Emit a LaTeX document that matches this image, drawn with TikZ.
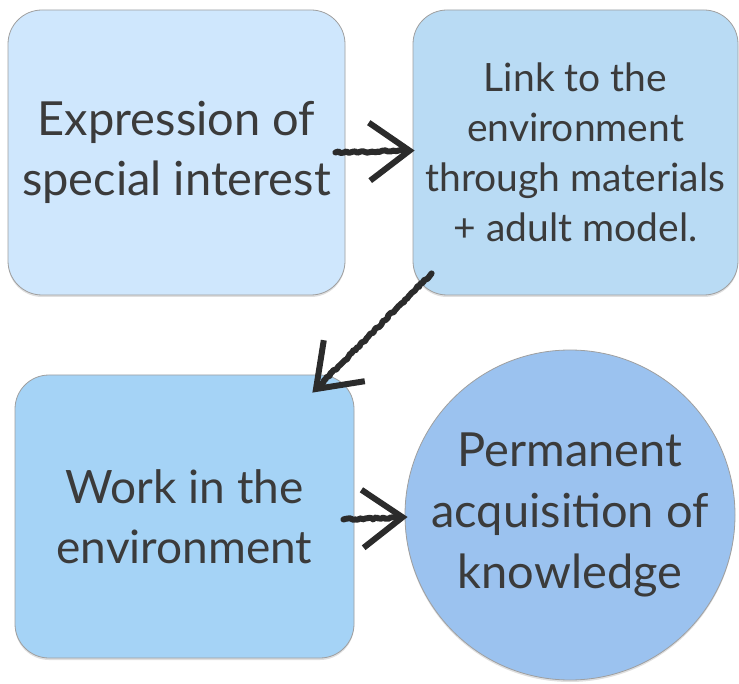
\documentclass[tikz,border=0pt]{standalone}
\usepackage{fontspec}
\setmainfont{Lato}
\usepackage{tikz}
\usetikzlibrary{arrows.meta,positioning,calc,shadows,decorations.pathmorphing}
\definecolor{boxa}{HTML}{CFE7FD}
\definecolor{boxb}{HTML}{B9DBF4}
\definecolor{boxc}{HTML}{A5D3F6}
\definecolor{circd}{HTML}{9BC2EF}
\definecolor{inktext}{HTML}{3B3B3B}
\definecolor{ink}{HTML}{2B2B2B}
\tikzset{
    card/.style={rectangle,rounded corners=34pt,draw=gray!75,line width=0.8pt,
        drop shadow={opacity=0.25,shadow xshift=0pt,shadow yshift=-2pt},
        align=center,text=inktext,inner sep=0pt},
    sketch/.style={draw=ink,line width=6pt,line cap=round,line join=round,
        decorate,decoration={random steps,segment length=2.5pt,amplitude=1pt},
        -{Straight Barb[length=40pt,width=58pt,line width=6pt,sep=0pt]}}
}

\begin{document}
\begin{tikzpicture}[x=1pt,y=-1pt]
        \useasboundingbox (0,0) rectangle (739,684);

        % Boxes
        \node[card,fill=boxa,minimum width=337pt,minimum height=285pt,
            font=\fontsize{47}{60}\selectfont] (interest) at (176.5,152.5)
            {Expression of\\special interest};
        \node[card,fill=boxb,minimum width=325pt,minimum height=285pt,
            font=\fontsize{39}{50}\selectfont] (link) at (575.5,152.5)
            {Link to the\\environment\\through materials\\+ adult model.};
        \node[card,fill=boxc,minimum width=339pt,minimum height=283pt,
            font=\fontsize{46}{60}\selectfont] (work) at (184.5,516.5)
            {Work in the\\environment};
        \node[card,circle,fill=circd,minimum size=330pt,
            font=\fontsize{47}{61}\selectfont] (knowledge) at (570,515)
            {Permanent\\acquisition of\\knowledge};

        % Arrows
        \draw[sketch,decoration={pre length=0pt,post length=6pt}] ($(interest.east)+(-10,0)$) -- ($(link.west)+(2,-2)$);
        \draw[sketch,decoration={post length=6pt}] ($(link.south west)+(19,-22)$) -- ($(work.north east)+(-42,18)$);
        \draw[sketch,decoration={post length=6pt}] ($(work.east)+(-11,3)$) -- ($(knowledge.west)+(3,2)$);
    \end{tikzpicture}
\end{document}
